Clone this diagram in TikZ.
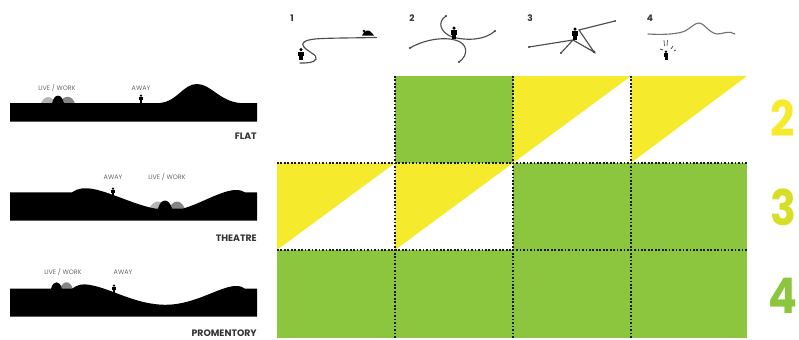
\documentclass[tikz,border=0pt]{standalone}
\usepackage{fontspec}
\setmainfont{Poppins}
\usetikzlibrary{arrows.meta}

\definecolor{leafgreen}{HTML}{8CC63F}
\definecolor{signyellow}{HTML}{F5EA2C}
\definecolor{limeyellow}{HTML}{D6DF26}
\definecolor{lightmound}{HTML}{B4B4B4}
\definecolor{midmound}{HTML}{858585}

\tikzset{
    cellgreen/.style={fill=leafgreen, draw=none},
    cellyellow/.style={fill=signyellow, draw=none},
    gridline/.style={black!90, line width=1.8pt, dash pattern=on 1.3pt off 1.3pt},
    smalltag/.style={text=black!60, font=\fontsize{4.8}{6}\selectfont, inner sep=0pt},
    terrainname/.style={text=black!80, font=\fontsize{7}{8}\selectfont\bfseries, inner sep=0pt, anchor=east},
    iconnum/.style={text=black!80, font=\fontsize{6.8}{8}\selectfont\bfseries, inner sep=0pt},
    bignum/.style={font=\fontsize{32}{40}\selectfont\bfseries, inner sep=0pt},
    route/.style={black!70, line width=0.85pt, line cap=round},
    stop/.style={black!75, fill=black!75}
}

% tall digit for the row numbers
\newcommand{\talldigit}[1]{\scalebox{1}[1.15]{#1}}

% figure standing with its feet at (#2,#3), scaled by #1
\newcommand{\walker}[3][1]{%
    \fill (#2,#3-8.3*#1) circle ({1.4*#1});
    \fill ({#2-2.4*#1},#3-6.8*#1) rectangle ({#2+2.4*#1},#3-3*#1);
    \fill ({#2-1.5*#1},#3-3.2*#1) rectangle ({#2+1.5*#1},#3);
}

\begin{document}
\begin{tikzpicture}[x=0.75pt, y=-0.75pt]
    \useasboundingbox (0,0) rectangle (799,339);

    % green and yellow cells of the table
    \fill[cellgreen] (395,76) rectangle (513,163);
    \fill[cellgreen] (513,163) rectangle (747,250);
    \fill[cellgreen] (277,250) rectangle (747,338);
    \foreach \cx/\cy/\cw in {513/76/118, 631/76/116, 277/163/118, 395/163/118} {
        \fill[cellyellow] (\cx,\cy) -- (\cx+\cw,\cy) -- (\cx,\cy+87) -- cycle;
    }

    % dotted grid lines
    \draw[gridline] (395,76) -- (395,338);
    \draw[gridline] (513,76) -- (513,338);
    \draw[gridline] (631,76) -- (631,338);
    \draw[gridline] (277,163) -- (747,163);
    \draw[gridline] (277,250) -- (747,250);

    % row numbers
    \node[bignum, text=signyellow] (row2) at (783,118) {\talldigit{2}};
    \node[bignum, text=limeyellow] (row3) at (783,207) {\talldigit{3}};
    \node[bignum, text=leafgreen] (row4) at (783,296) {\talldigit{4}};

    % column numbers
    \node[iconnum] (col1) at (292,18) {1};
    \node[iconnum] (col2) at (412,18) {2};
    \node[iconnum] (col3) at (530,18) {3};
    \node[iconnum] (col4) at (650,18) {4};

    % icon 1
    \draw[route] (376.5,37.5) .. controls (350,38) and (325,38) .. (315,39)
        .. controls (305,40) and (300,43) .. (304,47)
        .. controls (308,52) and (318,55) .. (316,59)
        .. controls (314,63) and (307,63) .. (300,63);
    \walker[1.25]{301}{60}
    \fill (362,35.5) .. controls (364,30) and (369,29.5) .. (371,32) -- (374,35.5) -- cycle;
    \fill (364,31) circle (1.4);

    % icon 2
    \draw[route] (410,48) .. controls (425,39) and (445,37) .. (455,40)
        .. controls (468,43) and (469,55) .. (459,62);
    \draw[route] (446,16) .. controls (437,22) and (440,32) .. (452,37)
        .. controls (468,41) and (485,40) .. (495,31);
    \fill[stop] (410,48) circle (1.2) (459,62) circle (1.2) (446,16) circle (1.2) (495,31) circle (1.2);
    \walker[1.25]{454}{38.5}

    % icon 3
    \draw[route] (529,47) -- (573,40) -- (561,53);
    \draw[route] (573,40) -- (594,52) -- (579,30) -- (615,21);
    \fill[stop] (529,47) circle (1.2) (561,53) circle (1.2) (594,52) circle (1.5) (615,21) circle (1);
    \walker[1.25]{575}{39.5}

    % icon 4
    \draw[route, black!55] (648,34) .. controls (665,35) and (678,34) .. (685,31)
        .. controls (692,27) and (695,23) .. (699,23)
        .. controls (704,23) and (709,33) .. (717,34)
        .. controls (723,34) and (729,30) .. (735,34);
    \walker{666}{60}
    \draw[black!60, line width=0.6pt] (664,40) -- (664.5,46) (667.5,40) -- (667,46);
    \draw[black!70, line width=0.6pt] (660,49) -- (663,50) (671,49) -- (673,46) (674,51) -- (676,50);

    % flat section
    \fill[lightmound] (41,103.5) .. controls (44,95) and (52,95) .. (55,103.5) -- cycle;
    \fill[midmound] (60,103.5) .. controls (63,94.5) and (72,94.5) .. (75,103.5) -- cycle;
    \fill (52,103.5) .. controls (54,93) and (62,93) .. (64,103.5) -- cycle;
    \fill (10,103) -- (160,103) .. controls (178,101) and (183,84) .. (197,84)
        .. controls (211,84) and (219,101) .. (240,103)
        -- (257,103) -- (257,121.5) -- (10,121.5) -- cycle;
    \walker[0.9]{141}{103}
    \node[smalltag] (livework1) at (57,88) {LIVE / WORK};
    \node[smalltag] (away1) at (141,88) {AWAY};
    \node[terrainname] (flat) at (257,136) {FLAT};

    % theatre section
    \fill[lightmound] (149,209) .. controls (154,199) and (162,199) .. (167,209) -- cycle;
    \fill[midmound] (169,209) .. controls (173,199) and (181,199) .. (185,209) -- cycle;
    \fill (10,192.3) -- (72,192.3) .. controls (78,188) and (85,187.5) .. (93,189)
        .. controls (110,192) and (135,205) .. (155,208.5)
        -- (158,208.5) .. controls (161,198) and (169,198) .. (172,208.5)
        -- (183,208.5) .. controls (200,204) and (222,190) .. (236,190)
        .. controls (240,190) and (243,191) .. (245,192.3)
        -- (257,192.3) -- (257,220.7) -- (10,220.7) -- cycle;
    \walker[0.9]{113}{196}
    \node[smalltag] (away2) at (113,177) {AWAY};
    \node[smalltag] (livework2) at (167,177) {LIVE / WORK};
    \node[terrainname] (theatre) at (257,238) {THEATRE};

    % promentory section
    \fill[midmound] (60,289) .. controls (63,280) and (70,280) .. (73,289) -- cycle;
    \fill (51,289) .. controls (53,280) and (60,280) .. (62,289) -- cycle;
    \fill (10,288.7) -- (72,288.7) .. controls (78,284.5) and (82,283.5) .. (90,285)
        .. controls (110,288) and (135,304.5) .. (165,304.8)
        .. controls (195,305) and (220,286) .. (236,286)
        .. controls (240,286) and (243,287) .. (245,288.7)
        -- (257,288.7) -- (257,316.7) -- (10,316.7) -- cycle;
    \walker[0.9]{114}{293}
    \node[smalltag] (livework3) at (63,272) {LIVE / WORK};
    \node[smalltag] (away3) at (123,272) {AWAY};
    \node[terrainname] (promentory) at (257,333) {PROMENTORY};
\end{tikzpicture}
\end{document}
